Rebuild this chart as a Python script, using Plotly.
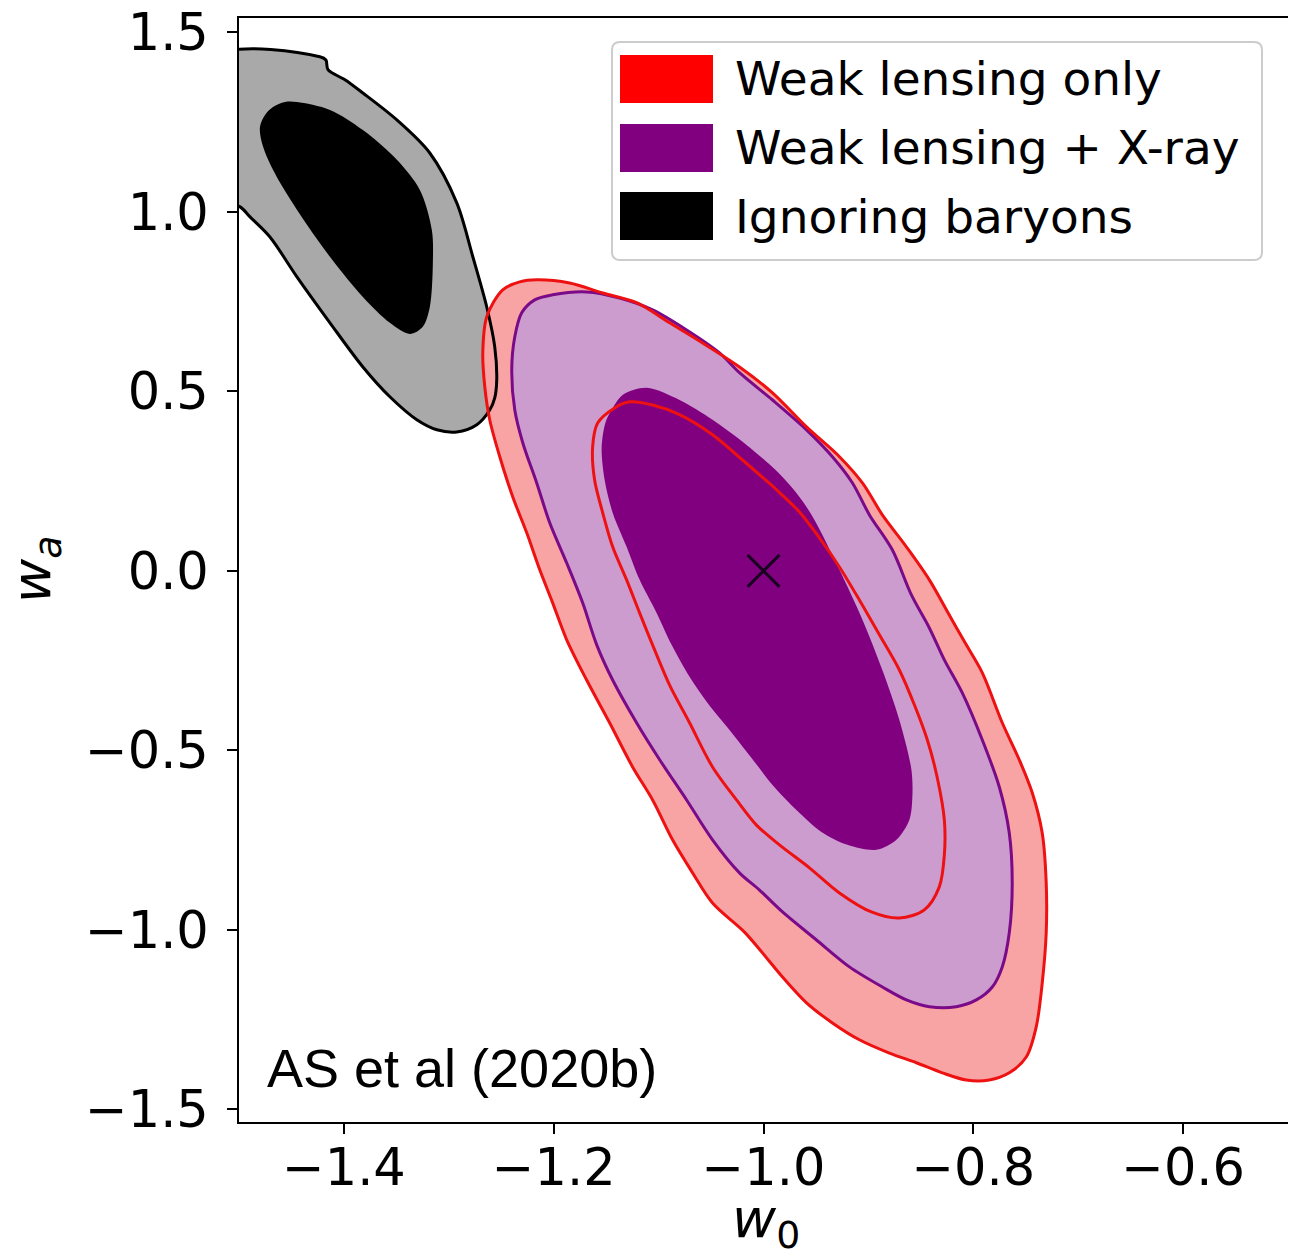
import plotly.graph_objects as go

# ---------------- data ----------------
# "Ignoring baryons": outer (grey) and inner (black) confidence regions
base_out_w0 = [-1.52, -1.4229, -1.4171, -1.4152, -1.399, -1.3819, -1.3495, -1.3181, -1.2924,
               -1.2771, -1.2638, -1.2562, -1.2543, -1.2562, -1.2610, -1.2733, -1.2924, -1.3114,
               -1.3305, -1.3562, -1.3819, -1.4133, -1.4448, -1.4705, -1.4895, -1.499, -1.52]
base_out_wa = [1.432, 1.432, 1.423, 1.396, 1.368, 1.331, 1.256, 1.164, 1.025,
               0.875, 0.735, 0.624, 0.532, 0.482, 0.448, 0.407, 0.387, 0.393,
               0.421, 0.485, 0.568, 0.691, 0.819, 0.930, 0.986, 1.014, 1.03]
base_in_w0 = [-1.48, -1.4752, -1.4676, -1.4562, -1.4448, -1.4133, -1.3819, -1.3495, -1.3276,
              -1.3162, -1.3152, -1.3181, -1.3248, -1.3371, -1.3562, -1.3819, -1.4133, -1.4448,
              -1.4676, -1.4781]
base_in_wa = [1.237, 1.270, 1.292, 1.306, 1.306, 1.284, 1.228, 1.145, 1.061,
              0.950, 0.858, 0.735, 0.680, 0.660, 0.691, 0.763, 0.875, 1.006,
              1.117, 1.192]

# "Weak lensing only": outer and inner contours (red)
wl_out_w0 = [-1.2324, -1.2162, -1.1848, -1.1533, -1.1210, -1.0895, -1.0581, -1.0229, -0.9914,
             -0.9590, -0.9276, -0.9057, -0.8867, -0.8638, -0.8419, -0.8229, -0.8067, -0.7914,
             -0.7724, -0.7562, -0.7438, -0.7343, -0.7305, -0.7305, -0.7343, -0.7400, -0.7495,
             -0.7657, -0.7848, -0.8067, -0.8295, -0.8543, -0.8800, -0.9086, -0.9343, -0.9590,
             -0.9819, -1.0010, -1.0181, -1.0486, -1.0676, -1.0867, -1.1057, -1.1248, -1.1467,
             -1.1686, -1.1876, -1.2010, -1.2133, -1.2257, -1.2390, -1.2514, -1.2610, -1.2657,
             -1.2676, -1.2638, -1.2486]
wl_out_wa = [0.805, 0.811, 0.802, 0.774, 0.747, 0.691, 0.635, 0.568, 0.496,
             0.401, 0.318, 0.245, 0.156, 0.067, -0.025, -0.123, -0.206, -0.284,
             -0.423, -0.526, -0.618, -0.730, -0.869, -1.008, -1.148, -1.270, -1.354,
             -1.398, -1.418, -1.418, -1.398, -1.370, -1.343, -1.306, -1.259, -1.203,
             -1.131, -1.064, -1.006, -0.925, -0.841, -0.749, -0.638, -0.546, -0.423,
             -0.304, -0.192, -0.089, 0.003, 0.106, 0.206, 0.318, 0.421, 0.513,
             0.607, 0.708, 0.783]
wl_in_w0 = [-1.1419, -1.1276, -1.1057, -1.0800, -1.0486, -1.0181, -0.9876, -0.9657, -0.9467,
            -0.9276, -0.9086, -0.8895, -0.8705, -0.8562, -0.8438, -0.8343, -0.8276, -0.8276,
            -0.8324, -0.8467, -0.8705, -0.8971, -0.9276, -0.9562, -0.9848, -1.0067, -1.0257,
            -1.0486, -1.0705, -1.0895, -1.1038, -1.1181, -1.1305, -1.1438, -1.1533, -1.1610,
            -1.1629, -1.1581]
wl_in_wa = [0.454, 0.471, 0.462, 0.435, 0.379, 0.304, 0.226, 0.164, 0.092,
            0.011, -0.081, -0.178, -0.276, -0.373, -0.471, -0.577, -0.694, -0.791,
            -0.880, -0.944, -0.967, -0.950, -0.897, -0.827, -0.763, -0.708, -0.638,
            -0.546, -0.423, -0.318, -0.220, -0.117, -0.025, 0.067, 0.162, 0.253,
            0.345, 0.412]

# "Weak lensing + X-ray": outer and inner contours (purple)
xr_out_w0 = [-1.2181, -1.2010, -1.1686, -1.1371, -1.1057, -1.0733, -1.0419, -1.0229, -0.9914,
             -0.9590, -0.9343, -0.9152, -0.8990, -0.8771, -0.8590, -0.8419, -0.8276, -0.8105,
             -0.7914, -0.7752, -0.7657, -0.7629, -0.7657, -0.7724, -0.7819, -0.7971, -0.8162,
             -0.8419, -0.8638, -0.8867, -0.9181, -0.9495, -0.9819, -1.0038, -1.0229, -1.0486,
             -1.0733, -1.0990, -1.1210, -1.1438, -1.1590, -1.1724, -1.1876, -1.2038, -1.2162,
             -1.2295, -1.2371, -1.2400, -1.2371, -1.2305]
xr_out_wa = [0.755, 0.769, 0.777, 0.760, 0.727, 0.671, 0.607, 0.552, 0.476,
             0.393, 0.318, 0.245, 0.156, 0.058, -0.067, -0.159, -0.248, -0.340,
             -0.471, -0.602, -0.730, -0.869, -1.008, -1.103, -1.159, -1.195, -1.214,
             -1.214, -1.195, -1.159, -1.103, -1.028, -0.950, -0.889, -0.841, -0.749,
             -0.638, -0.526, -0.423, -0.304, -0.206, -0.089, 0.022, 0.134, 0.245,
             0.357, 0.448, 0.560, 0.652, 0.719]
xr_in_w0 = [-1.1448, -1.1343, -1.1114, -1.0800, -1.0486, -1.0162, -0.9867, -0.9657, -0.9514,
            -0.9276, -0.9057, -0.8867, -0.8705, -0.8590, -0.8581, -0.8610, -0.8733, -0.8924,
            -0.9200, -0.9448, -0.9686, -0.9914, -1.0114, -1.0324, -1.0533, -1.0705, -1.0876,
            -1.1019, -1.1181, -1.1305, -1.1438, -1.1514, -1.1543, -1.1505]
xr_in_wa = [0.448, 0.490, 0.510, 0.476, 0.421, 0.351, 0.276, 0.206, 0.142,
            0.003, -0.136, -0.276, -0.415, -0.554, -0.630, -0.694, -0.749, -0.777,
            -0.763, -0.727, -0.666, -0.596, -0.521, -0.443, -0.368, -0.295, -0.206,
            -0.117, -0.025, 0.067, 0.162, 0.253, 0.345, 0.415]

# fiducial cosmology marker
fid_w0 = [-1.0]
fid_wa = [0.0]

x_tick_values = [-1.4, -1.2, -1.0, -0.8, -0.6]
y_tick_values = [-1.5, -1.0, -0.5, 0.0, 0.5, 1.0, 1.5]
legend_labels = ["Weak lensing only", "Weak lensing + X-ray", "Ignoring baryons"]
legend_colors = ["#ff0000", "#800080", "#000000"]
credit_text = "AS et al (2020b)"
x_title = "<i>w</i><sub>0</sub>"
y_title = "<i>w<sub>a</sub></i>"

# ---------------- styling / layout ----------------
# the page adds an 8px body margin, so the figure is 8px smaller than the window
PAGE_OFF = 8
W, H = 1296 - PAGE_OFF, 1255 - PAGE_OFF
ML, MR, MT, MB = 231, 8, 10, 133
X_RANGE = [-1.5, -0.5]
Y_RANGE = [-1.535, 1.540]
PLOT_W = W - ML - MR
PLOT_H = H - MT - MB


def paper_x(px):  # px: horizontal position on the page
    return (px - PAGE_OFF - ML) / PLOT_W


def paper_y(py):  # py: vertical position on the page
    return (H - MB - (py - PAGE_OFF)) / PLOT_H


def closed(a):
    return list(a) + [a[0]]


def fmt(v):
    return f"{v:.1f}".replace("-", "\u2212")


fig = go.Figure()

fills = [
    (base_out_w0, base_out_wa, "#a9a9a9"),
    (base_in_w0, base_in_wa, "#000000"),
    (wl_out_w0, wl_out_wa, "#f9a4a4"),
    (xr_out_w0, xr_out_wa, "#cd9ccf"),
    (xr_in_w0, xr_in_wa, "#800080"),
]
for xs, ys, col in fills:
    fig.add_trace(go.Scatter(
        x=closed(xs), y=closed(ys), mode="lines", fill="toself", fillcolor=col,
        line=dict(width=0, color=col, shape="spline", smoothing=0.9),
        hoverinfo="skip", showlegend=False))

lines = [
    (base_out_w0, base_out_wa, "#000000", 3),
    (xr_out_w0, xr_out_wa, "#7a0a88", 3),
    (wl_out_w0, wl_out_wa, "#ee1111", 3),
    (wl_in_w0, wl_in_wa, "#ee1111", 3),
]
for xs, ys, col, lw in lines:
    fig.add_trace(go.Scatter(
        x=closed(xs), y=closed(ys), mode="lines",
        line=dict(width=lw, color=col, shape="spline", smoothing=0.9),
        hoverinfo="skip", showlegend=False))

fig.add_trace(go.Scatter(
    x=fid_w0, y=fid_wa, mode="markers",
    marker=dict(symbol="x-thin", size=32, line=dict(width=3, color="#1a0020")),
    hoverinfo="skip", showlegend=False))

# manual legend (box, colour patches, labels)
box_l, box_r, box_t, box_b, rad = 612, 1262, 42, 260, 8
rx = rad / PLOT_W
ry = rad / PLOT_H
x0, x1, y0, y1 = paper_x(box_l), paper_x(box_r), paper_y(box_b), paper_y(box_t)
path = (f"M {x0 + rx},{y0} L {x1 - rx},{y0} Q {x1},{y0} {x1},{y0 + ry} "
        f"L {x1},{y1 - ry} Q {x1},{y1} {x1 - rx},{y1} L {x0 + rx},{y1} "
        f"Q {x0},{y1} {x0},{y1 - ry} L {x0},{y0 + ry} Q {x0},{y0} {x0 + rx},{y0} Z")
shapes = [dict(type="path", path=path, xref="paper", yref="paper",
               fillcolor="rgba(255,255,255,0.85)", line=dict(color="#cccccc", width=2))]
annotations = []
row_centres = [79, 148, 216]
for lab, col, yc in zip(legend_labels, legend_colors, row_centres):
    shapes.append(dict(type="rect", xref="paper", yref="paper",
                       x0=paper_x(620), x1=paper_x(713),
                       y0=paper_y(yc + 24), y1=paper_y(yc - 24),
                       fillcolor=col, line=dict(width=0)))
    annotations.append(dict(text=lab, xref="paper", yref="paper",
                            x=paper_x(733), y=paper_y(yc), xanchor="left", yanchor="middle",
                            showarrow=False,
                            font=dict(family="DejaVu Sans", size=47, color="black")))

annotations.append(dict(text=credit_text, xref="paper", yref="paper",
                        x=paper_x(265), y=paper_y(1068), xanchor="left", yanchor="middle",
                        showarrow=False,
                        font=dict(family="Liberation Sans, Arial", size=54, color="black")))

# axis titles (placed as annotations so they sit exactly where the reference has them)
title_font = dict(family="DejaVu Sans", size=54, color="black")
annotations.append(dict(text=x_title, xref="paper", yref="paper",
                        x=paper_x(766), y=paper_y(1222), xanchor="center", yanchor="middle",
                        showarrow=False, font=title_font))
annotations.append(dict(text=y_title, xref="paper", yref="paper", textangle=-90,
                        x=paper_x(35), y=paper_y(570), xanchor="center", yanchor="middle",
                        showarrow=False, font=title_font))

axis_common = dict(showgrid=False, zeroline=False, showline=True, mirror=True,
                   linecolor="black", linewidth=2, ticks="outside", ticklen=10,
                   tickwidth=2, tickcolor="black", ticklabeloverflow="allow",
                   tickfont=dict(family="DejaVu Sans", size=51, color="black"))

fig.update_layout(
    width=W, height=H,
    margin=dict(l=ML, r=MR, t=MT, b=MB, autoexpand=False),
    paper_bgcolor="white", plot_bgcolor="white",
    xaxis=dict(range=X_RANGE, tickvals=x_tick_values,
               ticktext=[fmt(v) for v in x_tick_values],
               ticklabelstandoff=-10, **axis_common),
    yaxis=dict(range=Y_RANGE, tickvals=y_tick_values,
               ticktext=[fmt(v) for v in y_tick_values],
               ticklabelstandoff=8, **axis_common),
    shapes=shapes, annotations=annotations,
)

fig.write_html("out.html")
